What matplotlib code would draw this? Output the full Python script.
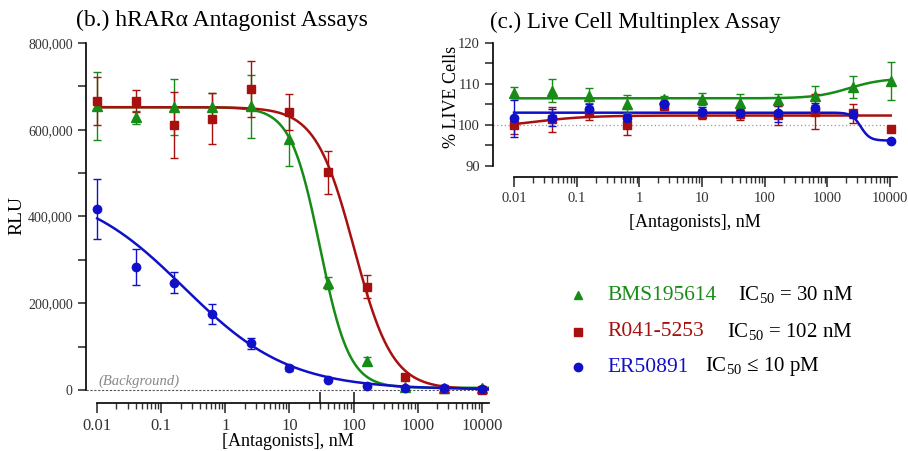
import numpy as np
import matplotlib.pyplot as plt
import matplotlib.transforms as mtransforms

plt.rcParams['font.family'] = ['Liberation Serif', 'DejaVu Serif']
plt.rcParams['mathtext.fontset'] = 'custom'
plt.rcParams['mathtext.rm'] = 'Liberation Serif'

# concentrations, nM (4-fold dilutions)
conc = [0.01, 0.04, 0.16, 0.625, 2.5, 10, 40, 160, 640, 2560, 10240]

# (b.) hRARa antagonist assay, RLU
bms_rlu = [654000, 629000, 652000, 652000, 654000, 579000, 247000, 67000, 8000, 4000, 5000]
bms_rlu_err = [78000, 15000, 65000, 33000, 72000, 62000, 14000, 8000, 2000, 1000, 1000]
ro_rlu = [666000, 666000, 611000, 625000, 694000, 641000, 502000, 238000, 30000, 2000, 1000]
ro_rlu_err = [55000, 26000, 77000, 59000, 64000, 41000, 49000, 27000, 3000, 1000, 1000]
er_rlu = [417000, 284000, 247000, 175000, 108000, 51000, 23000, 10000, 5000, 5000, 2000]
er_rlu_err = [70000, 41000, 24000, 23000, 13000, 7000, 2000, 2000, 1000, 1000, 1000]

# (c.) live cell multiplex, % live cells
bms_live = [107.9, 108.4, 107.1, 105.0, 106.3, 106.3, 105.3, 106.1, 107.1, 109.2, 110.8]
bms_live_err = [1.4, 2.8, 1.8, 2.2, 0.8, 1.5, 2.3, 1.5, 2.3, 2.7, 4.6]
ro_live = [100.0, 101.4, 102.8, 100.0, 104.6, 102.6, 102.7, 102.4, 103.2, 102.8, 99.1]
ro_live_err = [2.2, 3.0, 1.6, 2.5, 1.0, 1.2, 1.5, 2.3, 4.3, 2.4, 0.3]
er_live = [101.6, 101.8, 103.8, 101.8, 105.1, 103.2, 102.8, 102.8, 104.1, 102.7, 96.1]
er_live_err = [4.5, 2.0, 1.2, 0.8, 0.4, 1.3, 1.0, 2.0, 1.2, 1.0, 0.3]

# fitted 4PL parameters (bottom, top, midpoint, hill)
bms_fit_b = (5000, 652000, 30, -1.9)
ro_fit_b = (2000, 652000, 102, -1.45)
er_fit_b = (1000, 471000, 0.227, -0.53)
bms_fit_c = (106.5, 111.4, 2200, 1.6)
ro_fit_c = (99.15, 102.3, 0.02, 1.0)
er_fit_c = (96.2, 103.0, 3400, -6.0)

names = ['BMS195614', 'R041-5253', 'ER50891']
ic50_text = ['IC$_{50}$ = 30 nM', 'IC$_{50}$ = 102 nM', 'IC$_{50}$ \u2264 10 pM']
ic50_marks = [30, 102]

green = '#168c16'
red = '#a80f0f'
blue = '#1010c8'
colors = [green, red, blue]
markers = ['^', 's', 'o']


def four_pl(x, p):
    bottom, top, mid, hill = p
    return bottom + (top - bottom) / (1 + (mid / x) ** hill)


def style_axes(ax, xsize, ysize):
    ax.set_xscale('log')
    ax.spines['top'].set_visible(False)
    ax.spines['right'].set_visible(False)
    for s in ['left', 'bottom']:
        ax.spines[s].set_linewidth(1.2)
    ax.tick_params(axis='both', which='major', direction='out', width=1.2, colors='#333333',
                   labelcolor='#333333')
    ax.tick_params(axis='x', which='major', length=7.5, labelsize=xsize)
    ax.tick_params(axis='x', which='minor', length=4, width=1.0, color='#333333')
    ax.tick_params(axis='y', which='major', length=6, labelsize=ysize)
    ax.tick_params(axis='y', which='minor', length=6, width=1.2, color='#333333')
    ax.set_xticks([0.01, 0.1, 1, 10, 100, 1000, 10000])
    ax.set_xticklabels(['0.01', '0.1', '1', '10', '100', '1000', '10000'])
    ax.set_xticks([m * 10.0 ** e for e in range(-2, 4) for m in range(2, 10)], minor=True)


W, H = 908, 451
fig = plt.figure(figsize=(W / 100, H / 100), dpi=100)

# ---------- panel b ----------
axb = fig.add_axes([86 / W, 1 - 403 / H, 403 / W, 360 / H])
style_axes(axb, 12, 10)
axb.set_xlim(0.0067, 13000)
axb.set_ylim(-30000, 800000)
axb.spines['left'].set_bounds(0, 800000)
axb.spines['bottom'].set_bounds(0.01, 13000)
axb.set_yticks([0, 200000, 400000, 600000, 800000])
axb.set_yticklabels(['0', '200,000', '400,000', '600,000', '800,000'])
axb.set_yticks([100000, 300000, 500000, 700000], minor=True)
axb.axhline(0, color='#555555', lw=0.8, ls=(0, (2, 1.5)), xmin=0, xmax=1)
axb.text(0.0105, 5000, '(Background)', style='italic', color='#888888', fontsize=10.5,
         va='bottom', ha='left')
trans = mtransforms.blended_transform_factory(axb.transData, axb.transAxes)
axb.vlines(ic50_marks, 0, 0.03, transform=trans, color='#222222', lw=1.2, clip_on=False)

xs = np.logspace(-2, np.log10(13000), 400)
series_b = [(bms_rlu, bms_rlu_err, bms_fit_b), (ro_rlu, ro_rlu_err, ro_fit_b), (er_rlu, er_rlu_err, er_fit_b)]
for (vals, errs, fit), c, m in zip(series_b, colors, markers):
    axb.plot(xs, four_pl(xs, fit), color=c, lw=1.8, zorder=2)
    axb.errorbar(conc, vals, yerr=errs, fmt=m, color=c, ms=6 if m != '^' else 6.5,
                 elinewidth=1.0, capsize=3, capthick=1.0, zorder=3, clip_on=False)
axb.set_ylabel('RLU', fontsize=14, labelpad=0)
axb.yaxis.set_label_coords(-0.151, 0.52)
axb.set_xlabel('[Antagonists], nM', fontsize=13, labelpad=-1)
fig.text(222 / W, 1 - 20 / H, '(b.) hRAR\u03b1 Antagonist Assays', fontsize=17,
         ha='center', va='center')

# ---------- panel c ----------
axc = fig.add_axes([493 / W, 1 - 177 / H, 404 / W, 134 / H])
style_axes(axc, 10.5, 10.5)
axc.set_xlim(0.00462, 12900)
axc.set_ylim(87.3, 120)
axc.spines['left'].set_bounds(90, 120)
axc.spines['bottom'].set_bounds(0.01, 12900)
axc.set_yticks([90, 100, 110, 120])
axc.set_yticks([95, 105, 115], minor=True)
axc.axhline(100, color='#999999', lw=0.9, ls=(0, (1, 2)))

xs_c = np.logspace(-2, np.log10(10240), 400)
series_c = [(bms_live, bms_live_err, bms_fit_c), (ro_live, ro_live_err, ro_fit_c), (er_live, er_live_err, er_fit_c)]
for (vals, errs, fit), c, m in zip(series_c, colors, markers):
    axc.plot(xs_c, four_pl(xs_c, fit), color=c, lw=1.8, zorder=2)
    axc.errorbar(conc, vals, yerr=errs, fmt=m, color=c, ms=6 if m != '^' else 6.5,
                 elinewidth=1.0, capsize=3, capthick=1.0, zorder=3, clip_on=False)
axc.set_ylabel('% LIVE Cells', fontsize=13, labelpad=2)
axc.yaxis.set_label_coords(-0.082, 0.6)
axc.set_xlabel('[Antagonists], nM', fontsize=13, labelpad=6)
fig.text(635 / W, 1 - 22 / H, '(c.) Live Cell Multinplex Assay', fontsize=16.5,
         ha='center', va='center')

# ---------- legend ----------
leg_y = [295, 332, 367]
ic_x = [738, 727, 705]
for i in range(3):
    fy = 1 - leg_y[i] / H
    fig.lines.append(plt.Line2D([578 / W], [fy], marker=markers[i], color=colors[i], ms=6,
                                ls='none', transform=fig.transFigure))
    fig.text(607 / W, fy, names[i], color=colors[i], fontsize=15.5, ha='left', va='center')
    fig.text(ic_x[i] / W, fy, ic50_text[i], color='black', fontsize=15, ha='left', va='center')

fig.savefig('out.png', dpi=100)
